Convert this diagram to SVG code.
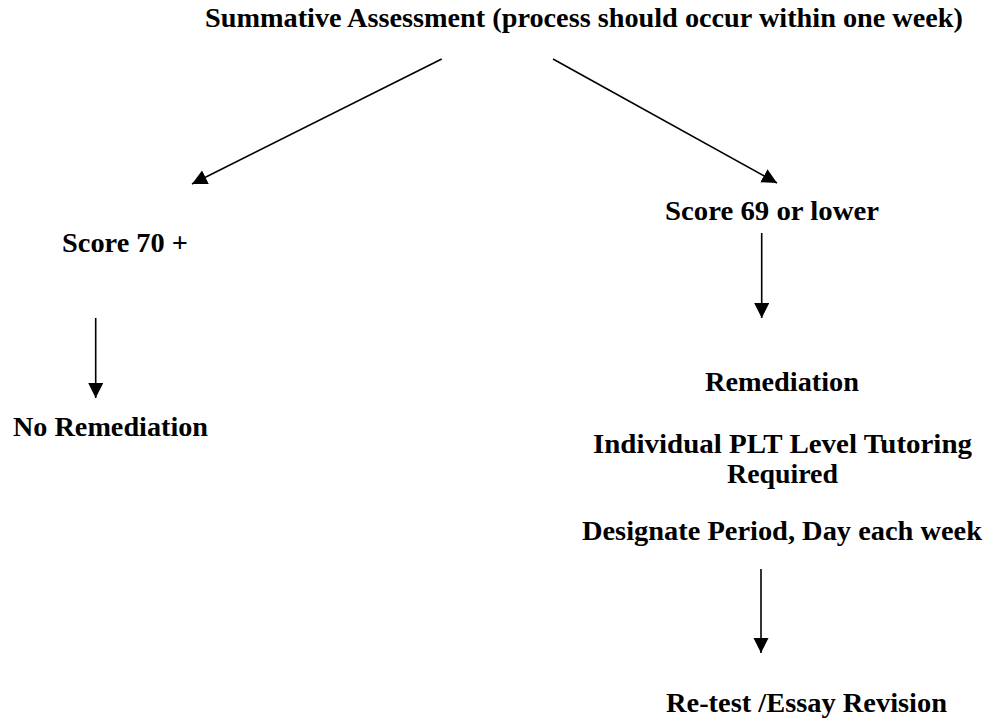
<svg xmlns="http://www.w3.org/2000/svg" width="989" height="724" viewBox="0 0 989 724">
  <style>
    .t { font-family: "Liberation Serif", serif; font-weight: 700; font-size: 27px; fill: #000; }
    .c { stroke: #000; stroke-width: 1.6; fill: none; marker-end: url(#ah); }
  </style>
  <defs>
    <marker id="ah" markerUnits="userSpaceOnUse" markerWidth="16" markerHeight="16" refX="15" refY="7.5" orient="auto">
      <path d="M0,0 L15,7.5 L0,15 Z" fill="#000"/>
    </marker>
  </defs>
  <rect width="989" height="724" fill="#fff"/>
  <g id="connectors">
    <line class="c" x1="441.7" y1="59" x2="192" y2="184"/>
    <line class="c" x1="553" y1="59" x2="777" y2="183"/>
    <line class="c" x1="95.7" y1="318" x2="95.7" y2="398"/>
    <line class="c" x1="761.7" y1="233" x2="761.7" y2="318"/>
    <line class="c" x1="761" y1="569" x2="761" y2="653"/>
  </g>
  <g id="summative">
    <text class="t" x="205" y="27" textLength="758" lengthAdjust="spacingAndGlyphs">Summative Assessment (process should occur within one week)</text>
  </g>
  <g id="score70">
    <text class="t" x="62" y="252" textLength="126" lengthAdjust="spacingAndGlyphs">Score 70 +</text>
  </g>
  <g id="no-remediation">
    <text class="t" x="13" y="436" textLength="195" lengthAdjust="spacingAndGlyphs">No Remediation</text>
  </g>
  <g id="score69">
    <text class="t" x="665" y="220" textLength="214" lengthAdjust="spacingAndGlyphs">Score 69 or lower</text>
  </g>
  <g id="remediation">
    <text class="t" x="705" y="391" textLength="154" lengthAdjust="spacingAndGlyphs">Remediation</text>
    <text class="t" x="593" y="453" textLength="379" lengthAdjust="spacingAndGlyphs">Individual PLT Level Tutoring</text>
    <text class="t" x="727" y="483" textLength="111" lengthAdjust="spacingAndGlyphs">Required</text>
    <text class="t" x="582" y="540" textLength="400" lengthAdjust="spacingAndGlyphs">Designate Period, Day each week</text>
  </g>
  <g id="retest">
    <text class="t" x="666" y="712" textLength="281" lengthAdjust="spacingAndGlyphs">Re-test /Essay Revision</text>
  </g>
</svg>
